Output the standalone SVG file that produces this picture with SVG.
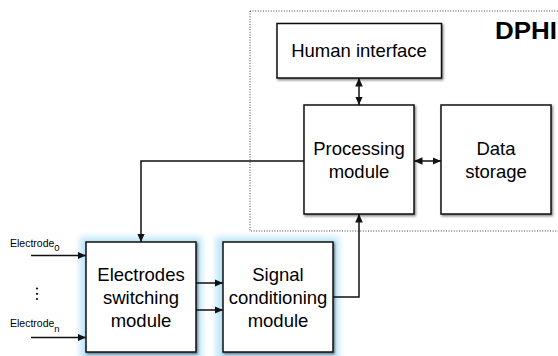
<svg xmlns="http://www.w3.org/2000/svg" width="558" height="356" viewBox="0 0 558 356">
<style>
.box{fill:#fff;stroke:#111;stroke-width:1.5;filter:url(#shadow)}
.lbl{font-family:"Liberation Sans",Arial,sans-serif;font-size:18.5px;fill:#000;text-anchor:middle}
.small{font-family:"Liberation Sans",Arial,sans-serif;font-size:10.5px;fill:#000}
.sub{font-size:9.5px}
.wire{fill:none;stroke:#111;stroke-width:1.5}
.glow{fill:#bde6f9;filter:url(#blur)}
</style>
<defs>
<filter id="shadow" x="-10%" y="-10%" width="125%" height="125%">
<feDropShadow dx="1.2" dy="1.5" stdDeviation="0.9" flood-color="#000" flood-opacity="0.5"/>
</filter>
<filter id="blur" x="-20%" y="-20%" width="140%" height="140%">
<feGaussianBlur stdDeviation="3"/>
</filter>
<marker id="arr" viewBox="0 0 10 10" refX="10" refY="5" markerWidth="8.5" markerHeight="8.5" markerUnits="userSpaceOnUse" orient="auto-start-reverse">
<path d="M0,0.5 L10,5 L0,9.5 Z" fill="#111"/>
</marker>
</defs>
<rect x="250" y="11" width="320" height="220" fill="none" stroke="#444" stroke-width="1" stroke-dasharray="1,1.6"/>
<text x="495" y="39" font-family="'Liberation Sans',Arial,sans-serif" font-weight="bold" font-size="23" fill="#000" textLength="62" lengthAdjust="spacingAndGlyphs">DPHI</text>
<g id="glows">
<rect class="glow" x="80" y="237" width="122" height="125"/>
<rect class="glow" x="216" y="237" width="123" height="125"/>
</g>
<g id="human-interface">
<rect class="box" x="277" y="23.5" width="164.5" height="54.5"/>
<text class="lbl" x="359" y="57">Human interface</text>
</g>
<g id="processing-module">
<rect class="box" x="304" y="105" width="110" height="109"/>
<text class="lbl" x="359" y="154.5">Processing</text>
<text class="lbl" x="359" y="177.5">module</text>
</g>
<g id="data-storage">
<rect class="box" x="441" y="105" width="110" height="109"/>
<text class="lbl" x="496" y="154.5">Data</text>
<text class="lbl" x="496" y="177.5">storage</text>
</g>
<g id="electrodes-switching-module">
<rect class="box" x="86" y="242" width="110" height="110"/>
<text class="lbl" x="141" y="281">Electrodes</text>
<text class="lbl" x="141" y="304">switching</text>
<text class="lbl" x="141" y="327">module</text>
</g>
<g id="signal-conditioning-module">
<rect class="box" x="223" y="242" width="110" height="110"/>
<text class="lbl" x="278" y="281">Signal</text>
<text class="lbl" x="278" y="304">conditioning</text>
<text class="lbl" x="278" y="327">module</text>
</g>
<g id="electrode-inputs">
<text class="small" x="10" y="246.5">Electrode<tspan class="sub" dy="4.5">0</tspan></text>
<text class="small" x="10" y="327">Electrode<tspan class="sub" dy="5">n</tspan></text>
<circle cx="37" cy="288.5" r="1.1" fill="#111"/>
<circle cx="37" cy="293.8" r="1.1" fill="#111"/>
<circle cx="37" cy="299" r="1.1" fill="#111"/>
</g>
<g id="connectors">
<path class="wire" d="M31,255.5 H86" marker-end="url(#arr)"/>
<path class="wire" d="M31,337.5 H86" marker-end="url(#arr)"/>
<path class="wire" d="M196,283 H223" marker-end="url(#arr)"/>
<path class="wire" d="M196,310 H223" marker-end="url(#arr)"/>
<path class="wire" d="M304,161 H141 V242" marker-end="url(#arr)"/>
<path class="wire" d="M333,297 H359 V214" marker-end="url(#arr)"/>
<path class="wire" d="M359,78 V105" marker-start="url(#arr)" marker-end="url(#arr)"/>
<path class="wire" d="M414,161 H441" marker-start="url(#arr)" marker-end="url(#arr)"/>
</g>
</svg>
